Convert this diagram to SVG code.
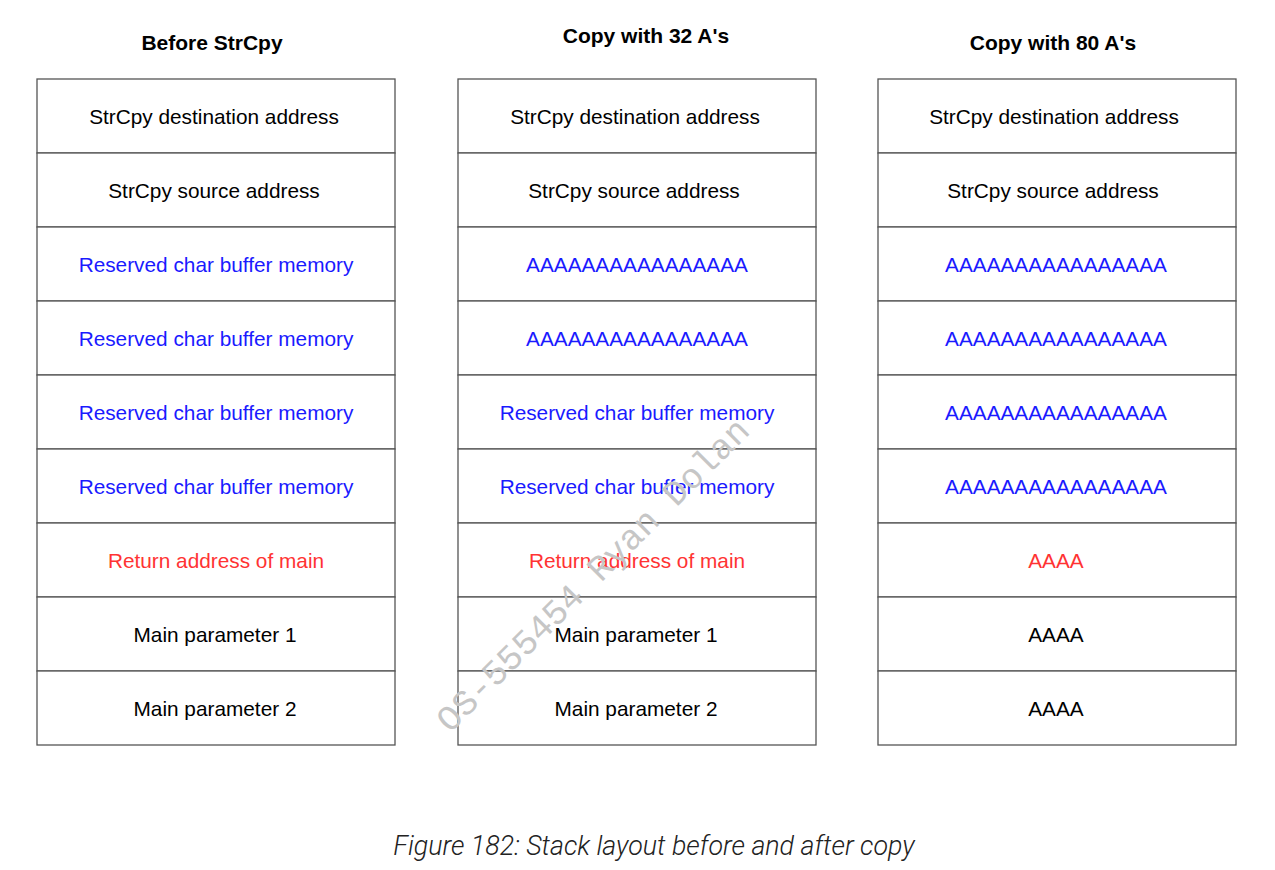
<svg xmlns="http://www.w3.org/2000/svg" width="1275" height="870" viewBox="0 0 1275 870">
<style>
.cell{fill:#fff;stroke:#555;stroke-width:1.3}
.t{font-family:"Liberation Sans",Arial,sans-serif;font-size:20.8px;text-anchor:middle}
.k{fill:#000}
.b{fill:#1a1aff}
.r{fill:#ff3333}
.h{font-family:"Liberation Sans",Arial,sans-serif;font-size:21px;font-weight:bold;text-anchor:middle;fill:#000}
.cap{font-family:Roboto,"Liberation Sans",sans-serif;font-size:26.8px;font-style:italic;font-weight:300;text-anchor:middle;fill:#222}
.wm{font-family:"Liberation Mono","Courier New",monospace;font-size:35.5px;fill:#c6c6c6;text-anchor:middle}
</style>
<rect width="1275" height="870" fill="#fff"/>
<g id="headings">
<text class="h" x="212" y="50">Before StrCpy</text>
<text class="h" x="646" y="43">Copy with 32 A's</text>
<text class="h" x="1053" y="50">Copy with 80 A's</text>
</g>
<g id="col1">
<g id="c1r1"><rect class="cell" x="37" y="79" width="358" height="74"/><text class="t k" x="214" y="124">StrCpy destination address</text></g>
<g id="c1r2"><rect class="cell" x="37" y="153" width="358" height="74"/><text class="t k" x="214" y="198">StrCpy source address</text></g>
<g id="c1r3"><rect class="cell" x="37" y="227" width="358" height="74"/><text class="t b" x="216" y="272">Reserved char buffer memory</text></g>
<g id="c1r4"><rect class="cell" x="37" y="301" width="358" height="74"/><text class="t b" x="216" y="346">Reserved char buffer memory</text></g>
<g id="c1r5"><rect class="cell" x="37" y="375" width="358" height="74"/><text class="t b" x="216" y="420">Reserved char buffer memory</text></g>
<g id="c1r6"><rect class="cell" x="37" y="449" width="358" height="74"/><text class="t b" x="216" y="494">Reserved char buffer memory</text></g>
<g id="c1r7"><rect class="cell" x="37" y="523" width="358" height="74"/><text class="t r" x="216" y="568">Return address of main</text></g>
<g id="c1r8"><rect class="cell" x="37" y="597" width="358" height="74"/><text class="t k" x="215" y="642">Main parameter 1</text></g>
<g id="c1r9"><rect class="cell" x="37" y="671" width="358" height="74"/><text class="t k" x="215" y="716">Main parameter 2</text></g>
</g>
<g id="col2">
<g id="c2r1"><rect class="cell" x="458" y="79" width="358" height="74"/><text class="t k" x="635" y="124">StrCpy destination address</text></g>
<g id="c2r2"><rect class="cell" x="458" y="153" width="358" height="74"/><text class="t k" x="634" y="198">StrCpy source address</text></g>
<g id="c2r3"><rect class="cell" x="458" y="227" width="358" height="74"/><text class="t b" x="637" y="272">AAAAAAAAAAAAAAAA</text></g>
<g id="c2r4"><rect class="cell" x="458" y="301" width="358" height="74"/><text class="t b" x="637" y="346">AAAAAAAAAAAAAAAA</text></g>
<g id="c2r5"><rect class="cell" x="458" y="375" width="358" height="74"/><text class="t b" x="637" y="420">Reserved char buffer memory</text></g>
<g id="c2r6"><rect class="cell" x="458" y="449" width="358" height="74"/><text class="t b" x="637" y="494">Reserved char buffer memory</text></g>
<g id="c2r7"><rect class="cell" x="458" y="523" width="358" height="74"/><text class="t r" x="637" y="568">Return address of main</text></g>
<g id="c2r8"><rect class="cell" x="458" y="597" width="358" height="74"/><text class="t k" x="636" y="642">Main parameter 1</text></g>
<g id="c2r9"><rect class="cell" x="458" y="671" width="358" height="74"/><text class="t k" x="636" y="716">Main parameter 2</text></g>
</g>
<g id="col3">
<g id="c3r1"><rect class="cell" x="878" y="79" width="358" height="74"/><text class="t k" x="1054" y="124">StrCpy destination address</text></g>
<g id="c3r2"><rect class="cell" x="878" y="153" width="358" height="74"/><text class="t k" x="1053" y="198">StrCpy source address</text></g>
<g id="c3r3"><rect class="cell" x="878" y="227" width="358" height="74"/><text class="t b" x="1056" y="272">AAAAAAAAAAAAAAAA</text></g>
<g id="c3r4"><rect class="cell" x="878" y="301" width="358" height="74"/><text class="t b" x="1056" y="346">AAAAAAAAAAAAAAAA</text></g>
<g id="c3r5"><rect class="cell" x="878" y="375" width="358" height="74"/><text class="t b" x="1056" y="420">AAAAAAAAAAAAAAAA</text></g>
<g id="c3r6"><rect class="cell" x="878" y="449" width="358" height="74"/><text class="t b" x="1056" y="494">AAAAAAAAAAAAAAAA</text></g>
<g id="c3r7"><rect class="cell" x="878" y="523" width="358" height="74"/><text class="t r" x="1056" y="568">AAAA</text></g>
<g id="c3r8"><rect class="cell" x="878" y="597" width="358" height="74"/><text class="t k" x="1056" y="642">AAAA</text></g>
<g id="c3r9"><rect class="cell" x="878" y="671" width="358" height="74"/><text class="t k" x="1056" y="716">AAAA</text></g>
</g>
<g id="connectors"/>
<text class="wm" x="601" y="583" transform="rotate(-45 601 583)">OS-555454 Ryan Dolan</text>
<text class="cap" x="654" y="855">Figure 182: Stack layout before and after copy</text>
</svg>
